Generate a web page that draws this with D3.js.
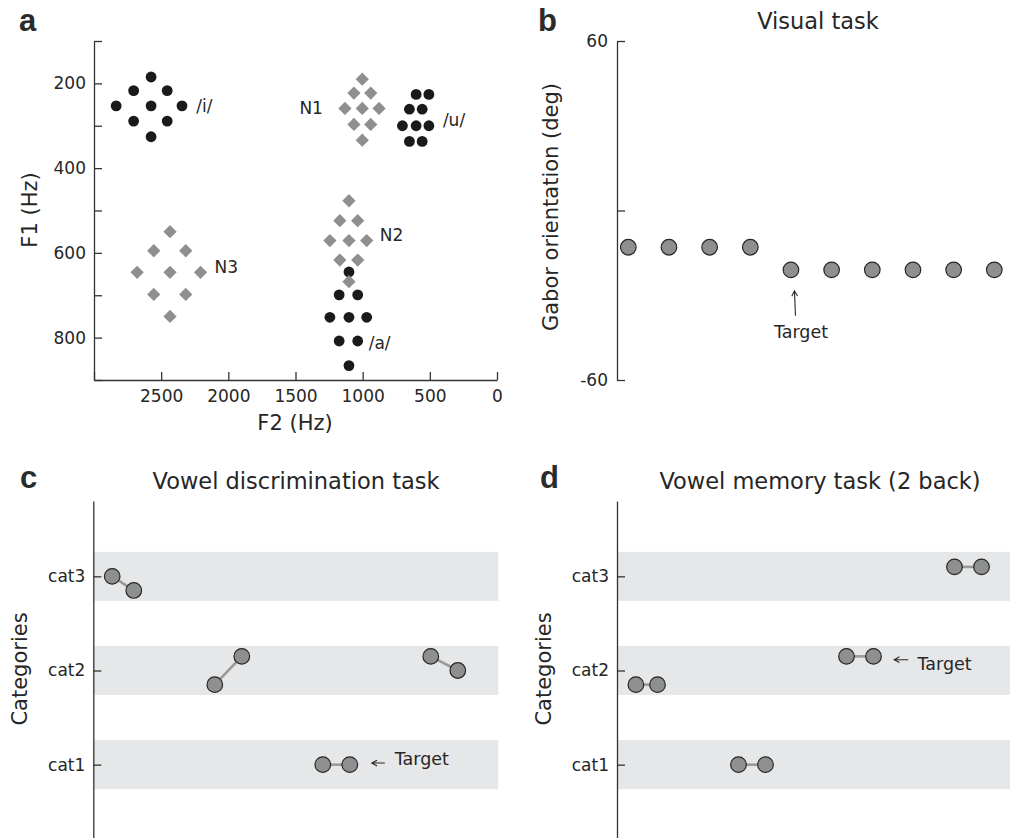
<!DOCTYPE html>
<html><head><meta charset="utf-8">
<script src="https://cdn.jsdelivr.net/npm/d3@7"></script>
<style>
html,body{margin:0;padding:0;background:#fff;}
svg{display:block;font-family:"DejaVu Sans",sans-serif;}
</style></head>
<body>
<svg id="chart" width="1010" height="838"></svg>
<script>
// ---------- DATA ----------
// Panel a: formant space (F2 Hz, F1 Hz)
const vowelI = [[2575,185],[2705,217],[2455,217],[2835,253],[2575,253],[2345,253],[2705,289],[2455,289],[2575,326]];
const vowelU = [[602,226],[507,226],[652,261],[557,261],[704,300],[602,300],[507,300],[652,337],[557,337]];
const vowelA = [[1102,645],[1175,699],[1037,699],[1244,752],[1102,752],[970,752],[1175,808],[1037,808],[1102,866]];
const novelN1 = [[1003,190],[1065,223],[940,223],[1132,259],[1003,259],[878,259],[1065,297],[940,297],[1003,334]];
const novelN2 = [[1102,477],[1170,524],[1037,524],[1244,571],[1102,571],[970,571],[1170,617],[1037,617],[1102,668]];
const novelN3 = [[2434,550],[2555,595],[2317,595],[2679,646],[2434,646],[2207,646],[2555,698],[2317,698],[2434,750]];
const f1Ticks = [100,200,300,400,500,600,700,800,900];
const f1Labels = [200,400,600,800];
const f2Ticks = [0,500,1000,1500,2000,2500,3000];
const f2Labels = [0,500,1000,1500,2000,2500];

// Panel b: Gabor orientation sequence
const gaborOrientation = [-13,-13,-13,-13,-21,-21,-21,-21,-21,-21];
const gaborTargetIndex = 4;
const gaborTicks = [-60,0,60];
const gaborLabels = [-60,60];

// Panels c/d: stimulus pairs (time position, category value)
const categories = ["cat1","cat2","cat3"];
const categoryValues = [1,2,3];
const discPairX = [[0.7,1.5],[4.5,5.5],[8.5,9.5],[12.5,13.5]];
const discPairCat = [[3,2.85],[1.85,2.15],[1,1],[2.15,2.0]];
const discTarget = 2;
const memPairX = [[0.7,1.5],[4.5,5.5],[8.5,9.5],[12.5,13.5]];
const memPairCat = [[1.85,1.85],[1,1],[2.15,2.15],[3.1,3.1]];
const memTarget = 2;

// ---------- STYLE ----------
const ink = "#262626";
const axisCol = "#333";
const grayMark = "#8f8f91";
const circleFill = "#8e8f91";
const bandCol = "#e6e7e8";
const svg = d3.select("#chart");

function styleAxis(g){
  g.select(".domain").attr("stroke",axisCol).attr("stroke-width",1.3);
  g.selectAll(".tick line").attr("stroke",axisCol).attr("stroke-width",1.3);
  g.selectAll(".tick text").attr("fill",ink).style("font-size","17px").style("font-family","DejaVu Sans");
}
function panelLetter(t,x,y){
  svg.append("text").attr("x",x).attr("y",y).text(t)
    .style("font-family","'Liberation Sans',Arial,sans-serif").style("font-weight","bold")
    .style("font-size","31px").attr("fill","#2b2b2b");
}
function title(t,x,y){
  svg.append("text").attr("x",x).attr("y",y).attr("text-anchor","middle").text(t)
    .style("font-size","22.5px").attr("fill",ink);
}
function yLabel(t,x,y){
  svg.append("text").attr("transform",`translate(${x},${y}) rotate(-90)`)
    .attr("text-anchor","middle").attr("dominant-baseline","central").text(t)
    .style("font-size","21px").attr("fill",ink);
}
function arrow(x1,y1,x2,y2){
  const a = Math.atan2(y2-y1,x2-x1), L=6, s=0.5;
  const p = d3.path();
  p.moveTo(x1,y1); p.lineTo(x2,y2);
  p.moveTo(x2-L*Math.cos(a-s),y2-L*Math.sin(a-s)); p.lineTo(x2,y2);
  p.lineTo(x2-L*Math.cos(a+s),y2-L*Math.sin(a+s));
  svg.append("path").attr("d",p.toString()).attr("fill","none").attr("stroke",ink).attr("stroke-width",1.1);
}

// ---------- PANEL A ----------
const xA = d3.scaleLinear().domain([3000,0]).range([94,497]);
const yA = d3.scaleLinear().domain([100,900]).range([41,380]);
const gA = svg.append("g");
gA.append("g").attr("transform","translate(94,0)")
  .call(d3.axisLeft(yA).tickValues(f1Ticks).tickSizeInner(-8).tickSizeOuter(0).tickPadding(8)
    .tickFormat(d=>f1Labels.includes(d)?d:""))
  .call(styleAxis);
gA.append("g").attr("transform","translate(0,380)")
  .call(d3.axisBottom(xA).tickValues(f2Ticks).tickSizeInner(-8).tickSizeOuter(0).tickPadding(10)
    .tickFormat(d=>f2Labels.includes(d)?d:""))
  .call(styleAxis);
gA.selectAll(".tick text").filter(function(){return this.textContent==="";}).remove();

function dots(data){
  gA.append("g").selectAll("circle").data(data).join("circle")
    .attr("cx",d=>xA(d[0])).attr("cy",d=>yA(d[1])).attr("r",5.4).attr("fill","#1a1a1a");
}
function diamonds(data){
  gA.append("g").selectAll("path").data(data).join("path")
    .attr("d",d3.symbol().type(d3.symbolSquare).size(88))
    .attr("transform",d=>`translate(${xA(d[0])},${yA(d[1])}) rotate(45)`)
    .attr("fill",grayMark);
}
dots(vowelI); dots(vowelU); dots(vowelA);
diamonds(novelN1); diamonds(novelN2); diamonds(novelN3);

function ptLabel(t,x,y,anchor){
  gA.append("text").attr("x",x).attr("y",y).attr("text-anchor",anchor||"start")
    .attr("dominant-baseline","central").text(t).style("font-size","17px").attr("fill",ink);
}
ptLabel("/i/", xA(2343)+14, yA(253));
ptLabel("/u/", xA(507)+14, yA(286));
ptLabel("/a/", xA(970)+2, yA(812));
ptLabel("N1", xA(1132)-22, yA(259), "end");
ptLabel("N2", xA(970)+13, yA(557));
ptLabel("N3", xA(2207)+14, yA(634));

svg.append("text").attr("x",295).attr("y",430).attr("text-anchor","middle").text("F2 (Hz)")
  .style("font-size","21px").attr("fill",ink);
yLabel("F1 (Hz)",30,210);
panelLetter("a",19,31);

// ---------- PANEL B ----------
const xB = d3.scaleLinear().domain([0,9]).range([628.3,994.3]);
const yB = d3.scaleLinear().domain([-60,60]).range([380,41]);
svg.append("g").attr("transform","translate(617,0)")
  .call(d3.axisLeft(yB).tickValues(gaborTicks).tickSizeInner(-8).tickSizeOuter(0).tickPadding(9)
    .tickFormat(d=>gaborLabels.includes(d)?d:""))
  .call(styleAxis);
svg.append("g").selectAll("circle").data(gaborOrientation).join("circle")
  .attr("cx",(d,i)=>xB(i)).attr("cy",d=>yB(d)).attr("r",7.8)
  .attr("fill",circleFill).attr("stroke",ink).attr("stroke-width",1.2);
{
  const tx = xB(gaborTargetIndex), ty = yB(gaborOrientation[gaborTargetIndex]);
  arrow(tx+4.5, ty+46, tx+3.5, ty+21);
  svg.append("text").attr("x",tx+10).attr("y",ty+62).attr("text-anchor","middle")
    .attr("dominant-baseline","central").text("Target").style("font-size","17.5px").attr("fill",ink);
}
title("Visual task",818,29);
yLabel("Gabor orientation (deg)",551,207);
panelLetter("b",538,31);

// ---------- PANELS C / D ----------
function catPanel(axisX, pairX, pairCat, target, ttl, titleX, letter, letterX, arrowOff, textOff){
  const x = d3.scaleLinear().domain([0,15]).range([axisX, axisX+405]);
  const y = d3.scaleLinear().domain([0.2,3.8]).range([840,501]);
  const g = svg.append("g");
  g.selectAll("rect").data(categoryValues).join("rect")
    .attr("x",axisX).attr("width",x(15)-axisX)
    .attr("y",d=>y(d+0.26)).attr("height",d=>y(d-0.26)-y(d+0.26)).attr("fill",bandCol);
  g.append("g").attr("transform",`translate(${axisX},0)`)
    .call(d3.axisLeft(y).tickValues(categoryValues).tickSizeInner(-8).tickSizeOuter(0).tickPadding(8)
      .tickFormat((d,i)=>categories[i]))
    .call(styleAxis);
  const pairs = pairX.map((px,i)=>[[px[0],pairCat[i][0]],[px[1],pairCat[i][1]]]);
  g.append("g").selectAll("line").data(pairs).join("line")
    .attr("x1",d=>x(d[0][0])).attr("y1",d=>y(d[0][1])).attr("x2",d=>x(d[1][0])).attr("y2",d=>y(d[1][1]))
    .attr("stroke","#999").attr("stroke-width",2.6);
  g.append("g").selectAll("circle").data(pairs.flat()).join("circle")
    .attr("cx",d=>x(d[0])).attr("cy",d=>y(d[1])).attr("r",7.8)
    .attr("fill",circleFill).attr("stroke",ink).attr("stroke-width",1.2);
  const tp = pairs[target][1];
  const tx = x(tp[0]), ty = y(tp[1]);
  arrow(tx+arrowOff[0], ty+arrowOff[2], tx+arrowOff[1], ty+arrowOff[2]);
  svg.append("text").attr("x",tx+textOff[0]).attr("y",ty+textOff[1]).attr("dominant-baseline","central")
    .text("Target").style("font-size","17.5px").attr("fill",ink);
  title(ttl,titleX,489);
  yLabel("Categories",axisX-73,669);
  panelLetter(letter,letterX,488);
}
catPanel(93.3, discPairX, discPairCat, discTarget, "Vowel discrimination task", 296, "c", 20, [35,22,-1.6], [45,-6]);
catPanel(617, memPairX, memPairCat, memTarget, "Vowel memory task (2 back)", 820, "d", 540, [34.7,20.7,3.3], [44,8]);
</script>
</body></html>
